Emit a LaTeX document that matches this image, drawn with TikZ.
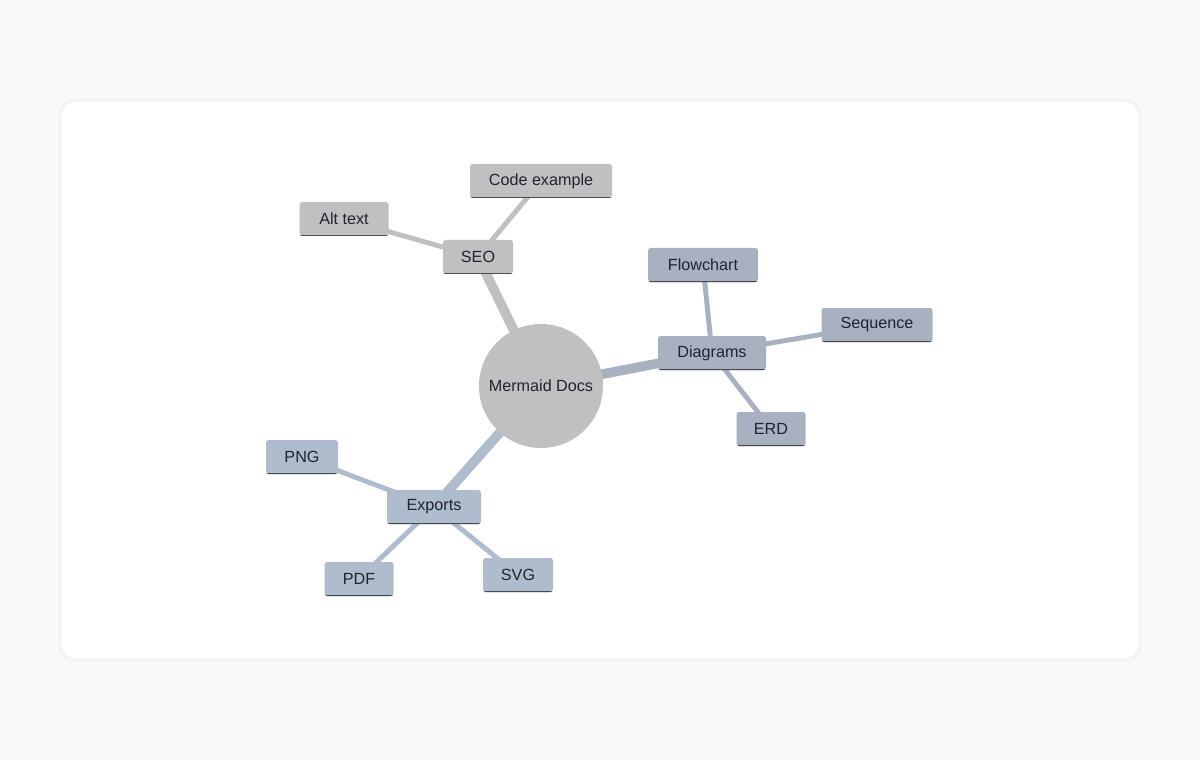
\documentclass[tikz,border=0pt]{standalone}
\usepackage{fontspec}
\setmainfont{Liberation Sans}
\usetikzlibrary{backgrounds}
\definecolor{pagebg}{HTML}{F8F9FB}
\definecolor{seogrey}{HTML}{C0C0C0}
\definecolor{diagblue}{HTML}{A9B1C1}
\definecolor{expblue}{HTML}{AEBCCD}
\definecolor{txt}{HTML}{1F2430}
\pgfdeclarelayer{edges}
\pgfsetlayers{background,edges,main}
\tikzset{
  leaf/.style={fill=#1, rounded corners=1.5pt, minimum height=34*0.02cm,
    inner xsep=0pt, text=txt, font=\fontsize{9.2}{11}\selectfont,
    path picture={\draw[line width=1.4pt, #1!40!black]
      (path picture bounding box.south west) -- (path picture bounding box.south east);}},
  trunk/.style={line width=5.5pt, #1},
  twig/.style={line width=2.8pt, #1}
}
\begin{document}
\begin{tikzpicture}[x=0.02cm, y=-0.02cm]
\begin{pgfonlayer}{background}
\fill[pagebg] (0,0) rectangle (1200,760);
\fill[black!4, rounded corners=9pt] (58,99) rectangle (1142,663);
\filldraw[white, draw=black!8, rounded corners=8pt] (61,101) rectangle (1139,659);
\end{pgfonlayer}

\node[circle, fill=seogrey, minimum size=124*0.02cm, text=txt, font=\fontsize{9.2}{11}\selectfont] (root) at (541,386) {Mermaid Docs};

% SEO branch
\node[leaf=seogrey, minimum width=70*0.02cm] (seo) at (478,257) {SEO};
\node[leaf=seogrey, minimum width=142*0.02cm] (code) at (541,181) {Code example};
\node[leaf=seogrey, minimum width=89*0.02cm] (alt) at (344,219) {Alt text};

% Diagrams branch
\node[leaf=diagblue, minimum width=108*0.02cm] (diag) at (712,353) {Diagrams};
\node[leaf=diagblue, minimum width=110*0.02cm] (flow) at (703,265) {Flowchart};
\node[leaf=diagblue, minimum width=111*0.02cm] (seq) at (877,325) {Sequence};
\node[leaf=diagblue, minimum width=69*0.02cm] (erd) at (771,429) {ERD};

% Exports branch
\node[leaf=expblue, minimum width=94*0.02cm] (exp) at (434,507) {Exports};
\node[leaf=expblue, minimum width=72*0.02cm] (png) at (302,457) {PNG};
\node[leaf=expblue, minimum width=69*0.02cm] (pdf) at (359,579) {PDF};
\node[leaf=expblue, minimum width=70*0.02cm] (svg) at (518,575) {SVG};

\begin{pgfonlayer}{edges}
\draw[trunk=seogrey] (root.center) -- (seo.center);
\draw[trunk=diagblue] (root.center) -- (diag.center);
\draw[trunk=expblue] (root.center) -- (exp.center);
\draw[twig=seogrey] (seo.center) -- (code.center);
\draw[twig=seogrey] (seo.center) -- (alt.center);
\draw[twig=diagblue] (diag.center) -- (flow.center);
\draw[twig=diagblue] (diag.center) -- (seq.center);
\draw[twig=diagblue] (diag.center) -- (erd.center);
\draw[twig=expblue] (exp.center) -- (png.center);
\draw[twig=expblue] (exp.center) -- (pdf.center);
\draw[twig=expblue] (exp.center) -- (svg.center);
\end{pgfonlayer}
\end{tikzpicture}
\end{document}
